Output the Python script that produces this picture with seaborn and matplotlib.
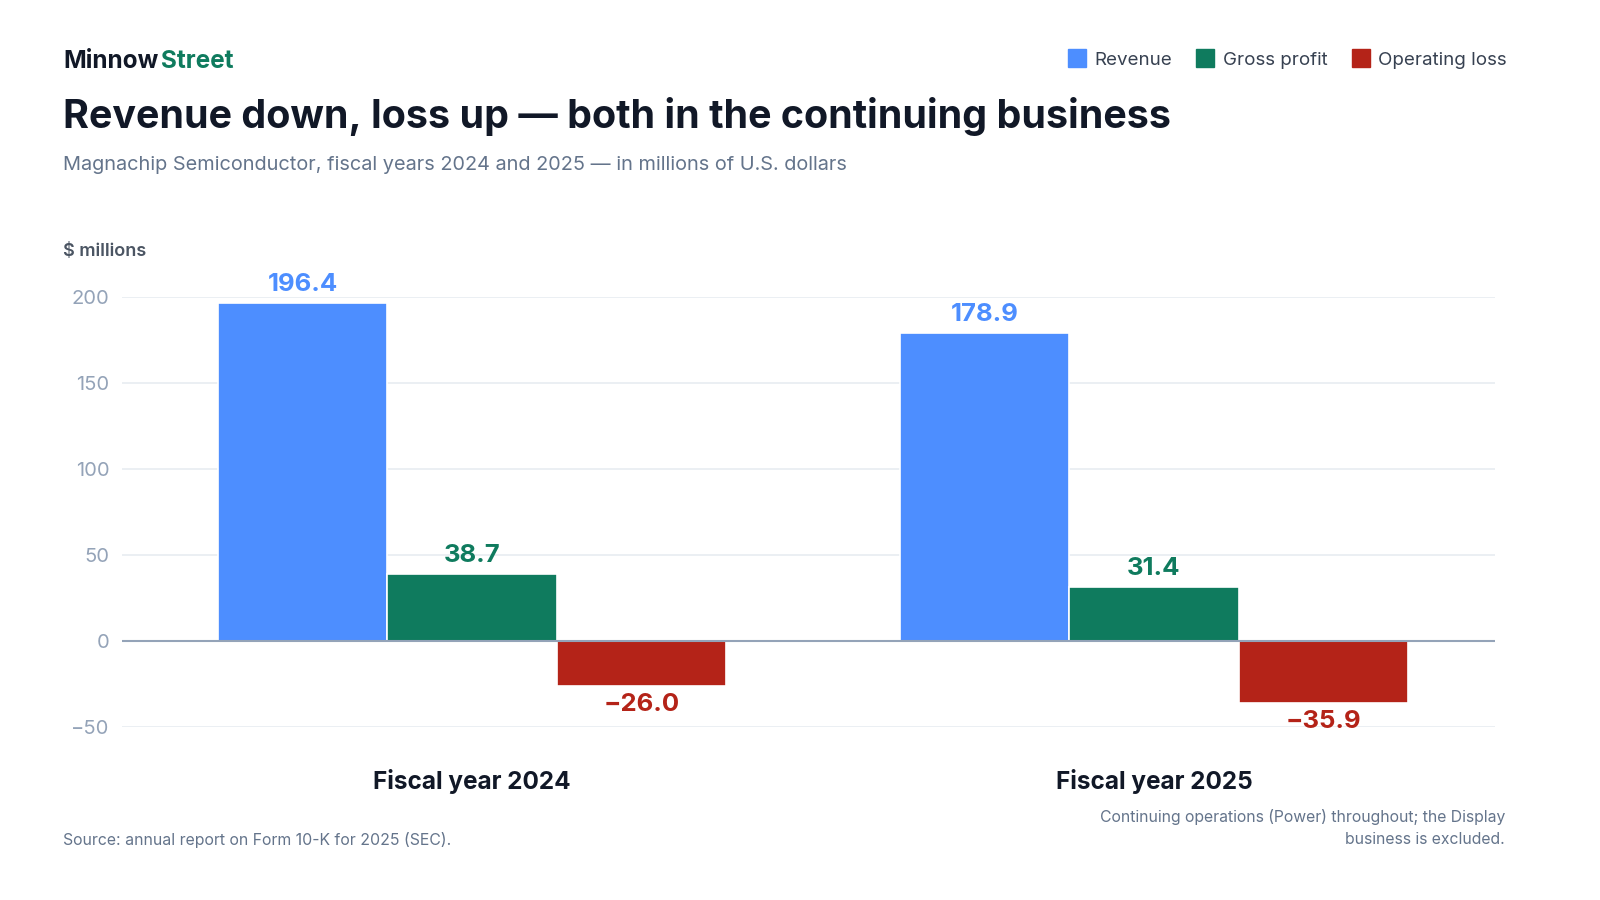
import matplotlib
matplotlib.use("Agg")
import matplotlib.pyplot as plt
import seaborn as sns
import pandas as pd
from matplotlib.lines import Line2D

# ---- data ----
years = ["Fiscal year 2024", "Fiscal year 2025"]
metrics = ["Revenue", "Gross profit", "Operating loss"]
revenue = [196.4, 178.9]
gross_profit = [38.7, 31.4]
operating_loss = [-26.0, -35.9]
yticks = [-50, 0, 50, 100, 150, 200]

colors = ["#4D8EFF", "#0F7B5E", "#B42318"]

rows = []
for i, y in enumerate(years):
    rows.append((y, metrics[0], revenue[i]))
    rows.append((y, metrics[1], gross_profit[i]))
    rows.append((y, metrics[2], operating_loss[i]))
df = pd.DataFrame(rows, columns=["year", "metric", "value"])

sns.set_theme(style="white")
plt.rcParams["font.family"] = ["Inter", "DejaVu Sans"]
plt.rcParams["axes.unicode_minus"] = True

fig = plt.figure(figsize=(16, 9), dpi=100)
fig.patch.set_facecolor("white")
ax = fig.add_axes([122 / 1600, 1 - 727 / 900, (1495 - 122) / 1600, (727 - 297) / 900])

sns.barplot(data=df, x="year", y="value", hue="metric", hue_order=metrics,
            palette=colors, width=0.745, saturation=1, ax=ax, legend=False,
            edgecolor="white", linewidth=1.2, errorbar=None)

ax.set_xlim(-0.513, 1.5)
ax.set_ylim(-50, 200)
ax.set_yticks(yticks)
ax.set_yticklabels([str(t).replace("-", "\u2212") for t in yticks])
ax.tick_params(axis="y", length=0, pad=9, labelsize=14.5, labelcolor="#94A3B8")
ax.tick_params(axis="x", length=0, pad=30, labelsize=17.5, labelcolor="#111827")
for lab in ax.get_xticklabels():
    lab.set_fontweight("bold")
ax.set_xlabel("")
ax.set_ylabel("")
for s in ax.spines.values():
    s.set_visible(False)
ax.grid(axis="y", color="#E8ECF1", linewidth=1.2)
ax.grid(axis="x", visible=False)
ax.set_axisbelow(True)
ax.axhline(0, color="#94A3B8", linewidth=1.5, zorder=3)

for cont, col in zip(ax.containers, colors):
    labels = [f"{b.get_height():.1f}".replace("-", "\u2212") for b in cont]
    ax.bar_label(cont, labels=labels, padding=5, color=col, fontsize=18.5,
                 fontweight="bold", clip_on=False)

# ---- header ----
fig.text(63 / 1600, 1 - 61 / 900, "Minnow", fontsize=17.5, fontweight="bold",
         color="#111827", va="center", ha="left")
fig.text(161 / 1600, 1 - 61 / 900, "Street", fontsize=17.5, fontweight="bold",
         color="#0F7B5E", va="center", ha="left")
fig.text(63 / 1600, 1 - 116 / 900,
         "Revenue down, loss up \u2014 both in the continuing business",
         fontsize=28.4, fontweight="bold", color="#111827", va="center", ha="left")
fig.text(63 / 1600, 1 - 165 / 900,
         "Magnachip Semiconductor, fiscal years 2024 and 2025 \u2014 in millions of U.S. dollars",
         fontsize=14.35, color="#64748B", va="center", ha="left")
fig.text(63 / 1600, 1 - 252 / 900, "$ millions", fontsize=13, fontweight="semibold",
         color="#4B5563", va="center", ha="left")

# ---- legend ----
handles = [Line2D([0], [0], marker="s", linestyle="none", markersize=12.5,
                  markerfacecolor=c, markeredgecolor=c) for c in colors]
fig.legend(handles, metrics, loc="center right", bbox_to_anchor=(1507 / 1600, 1 - 60 / 900),
           ncol=3, frameon=False, fontsize=13.5, labelcolor="#374151",
           handlelength=0.9, handletextpad=0.5, columnspacing=1.3,
           borderpad=0, borderaxespad=0)

# ---- footer ----
fig.text(63 / 1600, 1 - 840 / 900, "Source: annual report on Form 10-K for 2025 (SEC).",
         fontsize=11.4, color="#64748B", va="center", ha="left")
fig.text(1505 / 1600, 1 - 828 / 900,
         "Continuing operations (Power) throughout; the Display\nbusiness is excluded.",
         fontsize=11.35, color="#64748B", va="center", ha="right", linespacing=1.6)

fig.savefig("out.png", dpi=100, facecolor="white")
